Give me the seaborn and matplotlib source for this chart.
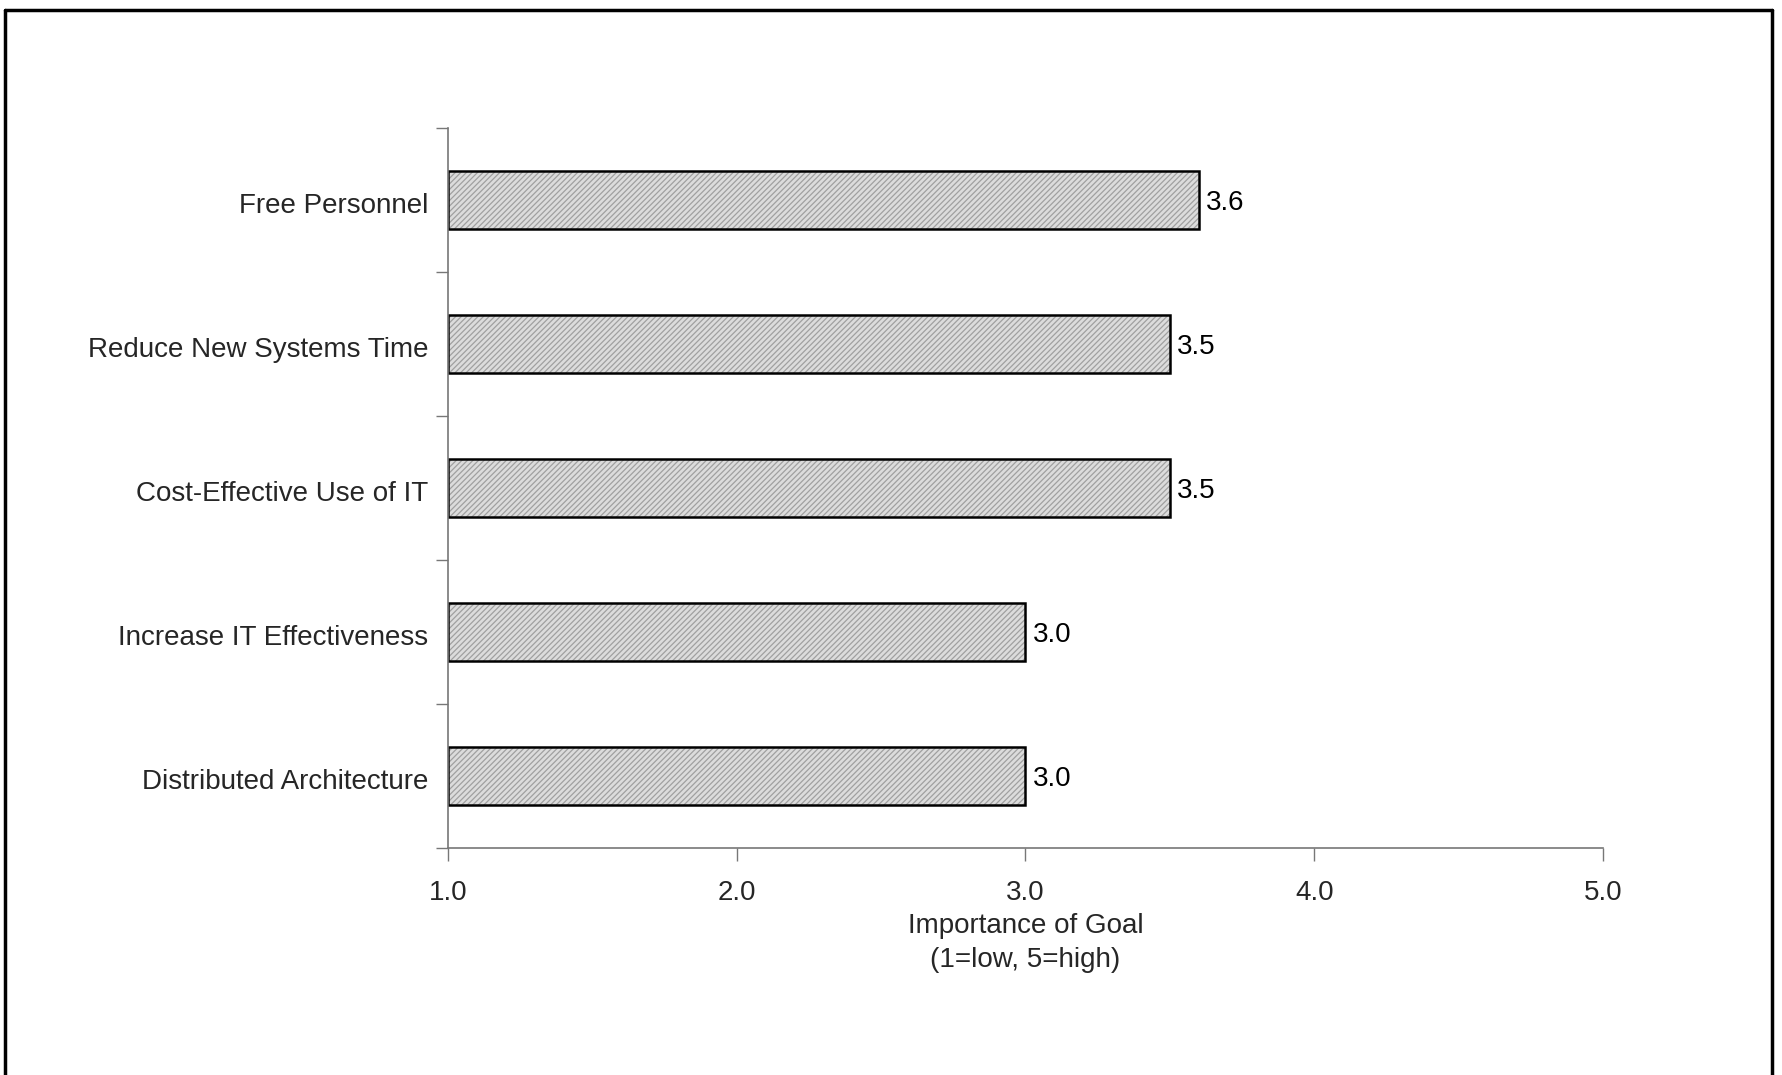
import matplotlib
matplotlib.use("Agg")
import matplotlib.pyplot as plt
import matplotlib.colors as mcolors
import seaborn as sns
import pandas as pd
from matplotlib.lines import Line2D

goals = ["Free Personnel", "Reduce New Systems Time", "Cost-Effective Use of IT",
         "Increase IT Effectiveness", "Distributed Architecture"]
importance = [3.6, 3.5, 3.5, 3.0, 3.0]
xticks = [1.0, 2.0, 3.0, 4.0, 5.0]
xlabel = "Importance of Goal\n(1=low, 5=high)"

sns.set_theme(style="white")
plt.rcParams['font.family'] = ['Liberation Sans', 'DejaVu Sans']
plt.rcParams['hatch.color'] = '#a0a0a0'
plt.rcParams['hatch.linewidth'] = 0.9

df = pd.DataFrame({"goal": goals, "value": importance})
df["delta"] = df["value"] - 1.0

FS = 20
W, H = 1783, 1075
fig = plt.figure(figsize=(W / 100, H / 100), dpi=100)
fig.patch.set_facecolor('white')
ax = fig.add_axes([448 / W, 1 - 848 / H, (1603 - 448) / W, (848 - 128) / H])

sns.barplot(data=df, x="delta", y="goal", orient="h", ax=ax, width=0.4,
            color="#dcdcdc", edgecolor="black", linewidth=1.8, left=1.0,
            errorbar=None)
for p in ax.patches:
    p.set_hatch("//////")
    p.set_facecolor("#dcdcdc")
    if hasattr(p, "set_hatchcolor"):
        p.set_hatchcolor("#a0a0a0")
    else:
        p._hatch_color = mcolors.to_rgba("#a0a0a0")

ax.set_xlim(1.0, 5.0)
ax.set_ylim(4.5, -0.5)
ax.set_xticks(xticks)
ax.set_xticklabels([f"{v:.1f}" for v in xticks], fontsize=FS)
ax.set_yticks([i - 0.5 for i in range(len(goals) + 1)], minor=False)
ax.set_yticklabels([])
ax.set_yticks([i + 0.02 for i in range(len(goals))], minor=True)
ax.set_yticklabels(goals, minor=True, fontsize=FS)
ax.tick_params(axis='y', which='minor', length=0, pad=14)
ax.tick_params(axis='y', which='major', length=9, width=1, color='#777777', direction='out', left=True)
ax.tick_params(axis='x', which='major', length=9, width=1, color='#777777', direction='out', bottom=True, pad=14)
ax.set_xlabel(xlabel, fontsize=FS, labelpad=5, linespacing=1.4)
ax.set_ylabel("")

for s in ["top", "right"]:
    ax.spines[s].set_visible(False)
for s in ["left", "bottom"]:
    ax.spines[s].set_visible(True)
    ax.spines[s].set_color('#777777')
    ax.spines[s].set_linewidth(1.2)

for i, v in enumerate(importance):
    ax.text(v + 0.025, i + 0.02, f"{v:.1f}", va="center", ha="left", fontsize=FS, color="black")

# figure frame (left, top, right)
fx0, fx1 = 5 / W, 1772 / W
fy1 = 1 - 10 / H
fig.add_artist(Line2D([fx0, fx0], [0, fy1], transform=fig.transFigure, color='black', lw=2.5))
fig.add_artist(Line2D([fx0, fx1], [fy1, fy1], transform=fig.transFigure, color='black', lw=2.5))
fig.add_artist(Line2D([fx1, fx1], [0, fy1], transform=fig.transFigure, color='black', lw=2.5))

fig.savefig("out.png", dpi=100, facecolor='white')
